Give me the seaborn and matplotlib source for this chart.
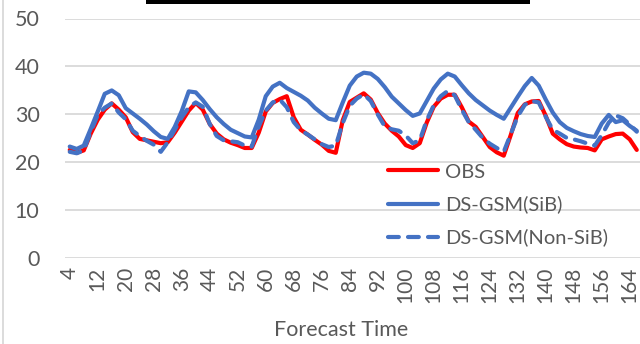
import numpy as np
import pandas as pd
import matplotlib
matplotlib.use("Agg")
import matplotlib.pyplot as plt
from matplotlib.patches import Rectangle
from matplotlib.lines import Line2D
import seaborn as sns

# ---- data ----
hours = list(range(4, 168, 2))
tick_hours = list(range(4, 168, 8))
series_names = ["OBS", "DS-GSM(SiB)", "DS-GSM(Non-SiB)"]

obs = [22.6, 22.0, 22.5, 26.0, 28.9, 31.0, 32.3, 31.0, 29.4, 26.3,
       24.9, 24.6, 24.3, 24.0, 24.2, 26.2, 28.5, 30.8, 32.4, 31.0,
       28.0, 26.0, 24.8, 24.1, 23.6, 23.0, 23.0, 26.2, 30.6, 32.4,
       33.2, 33.8, 29.4, 26.8, 25.8, 24.7, 23.7, 22.4, 22.0, 28.8,
       32.6, 33.5, 34.4, 33.1, 30.3, 28.1, 26.6, 25.4, 23.6, 23.0,
       24.0, 28.3, 31.6, 33.3, 34.1, 34.1, 31.5, 28.5, 27.4, 25.3,
       23.2, 22.1, 21.4, 25.7, 30.3, 32.1, 32.7, 32.8, 29.7, 26.0,
       24.8, 23.8, 23.3, 23.1, 23.0, 22.5, 24.8, 25.4, 25.9, 26.0,
       24.8, 22.6]

sib = [23.3, 22.8, 23.5, 27.0, 30.6, 34.3, 35.0, 34.0, 31.3, 30.2,
       29.1, 27.9, 26.5, 25.3, 24.9, 27.4, 30.7, 34.8, 34.6, 33.0,
       31.1, 29.4, 28.0, 26.8, 26.1, 25.4, 25.2, 28.9, 33.8, 35.8,
       36.6, 35.5, 34.7, 33.9, 32.9, 31.4, 30.2, 29.1, 28.8, 32.5,
       36.0, 37.9, 38.7, 38.5, 37.4, 35.7, 33.7, 32.3, 30.9, 29.7,
       30.2, 32.8, 35.4, 37.3, 38.5, 37.9, 36.1, 34.4, 33.0, 31.9,
       30.8, 29.9, 29.1, 31.4, 33.7, 35.9, 37.6, 36.0, 33.1, 30.4,
       28.4, 27.2, 26.5, 25.9, 25.5, 25.3, 28.1, 29.9, 28.4, 28.8,
       27.6, 26.6]

nonsib = [22.2, 21.9, 22.5, 26.4, 29.9, 31.4, 32.3, 30.4, 29.0, 26.6,
          25.5, 24.5, 23.7, 22.2, 24.2, 26.8, 29.4, 31.5, 32.5, 31.6,
          28.0, 25.5, 24.6, 24.4, 24.2, 23.5, 23.3, 27.5, 30.8, 32.5,
          33.1, 31.5, 28.4, 26.7, 25.8, 24.8, 23.8, 23.2, 23.5, 28.2,
          31.8, 33.3, 34.2, 32.8, 30.0, 27.5, 26.9, 26.6, 25.6, 24.0,
          24.6, 28.8, 31.9, 33.8, 34.9, 34.0, 31.0, 28.4, 26.8, 25.1,
          23.9, 23.0, 22.2, 25.9, 29.6, 32.0, 32.8, 32.5, 29.5, 26.8,
          26.0, 25.1, 24.8, 24.4, 23.9, 23.5, 25.7, 28.3, 29.8, 29.2,
          27.9, 26.4]

colors = ["#FF0000", "#4472C4", "#4472C4"]

# ---- styling ----
sns.set_style("white")
plt.rcParams["font.family"] = ["Lato", "DejaVu Sans"]
text_color = "#595959"
grid_color = "#D9D9D9"

W, H = 640, 344
fig = plt.figure(figsize=(W / 100, H / 100), dpi=100)
ax_left, ax_right = 64.5, 640.0
ax_top, ax_bot = 18.5, 258.3
ax = fig.add_axes([ax_left / W, (H - ax_bot) / H,
                   (ax_right - ax_left) / W, (ax_bot - ax_top) / H])

lw = 3.0
df = pd.DataFrame({"hour": hours, "OBS": obs, "DS-GSM(SiB)": sib,
                   "DS-GSM(Non-SiB)": nonsib})
for name, col in zip(series_names, colors):
    sns.lineplot(data=df, x="hour", y=name, ax=ax, color=col, lw=lw,
                 label=name, solid_capstyle="round", solid_joinstyle="round")
dashed_line = ax.lines[2]
dashed_line.set_linestyle((0, (2.6, 2.2)))
dashed_line.set_dash_capstyle("round")

ax.set_xlim(2.5, 2.5 + (ax_right - ax_left) / 3.5)
ax.set_ylim(0, 50)
ax.set_yticks([0, 10, 20, 30, 40, 50])
ax.set_xticks(tick_hours)
ax.set_xticklabels([str(t) for t in tick_hours], rotation=90)
ax.tick_params(axis="y", length=0, pad=18, labelsize=15.5, labelcolor=text_color)
ax.tick_params(axis="x", length=0, pad=6, labelsize=15, labelcolor=text_color)
ax.yaxis.grid(True, color=grid_color, lw=1.3)
ax.xaxis.grid(False)
for s in ax.spines.values():
    s.set_visible(False)
ax.set_xlabel("")
ax.set_ylabel("")

leg = ax.legend(loc="center left", bbox_to_anchor=(387.5 / W, (H - 205) / H),
                bbox_transform=fig.transFigure, frameon=False, fontsize=14.5,
                handlelength=2.5, handletextpad=0.35, labelspacing=0.75,
                borderpad=0, borderaxespad=0)
for t in leg.get_texts():
    t.set_color(text_color)

fig.text(341 / W, (H - 330) / H, "Forecast Time", ha="center", va="center",
         fontsize=15.5, color=text_color)

# chart border on the left and cropped title box at top
fig.add_artist(Line2D([2.5 / W, 2.5 / W], [0, 1], color=grid_color, lw=1.3,
                      transform=fig.transFigure))
fig.add_artist(Rectangle((146 / W, (H - 3.5) / H), 384 / W, 3.5 / H,
                         transform=fig.transFigure, color="black", lw=0))

fig.savefig("out.png", dpi=100)
